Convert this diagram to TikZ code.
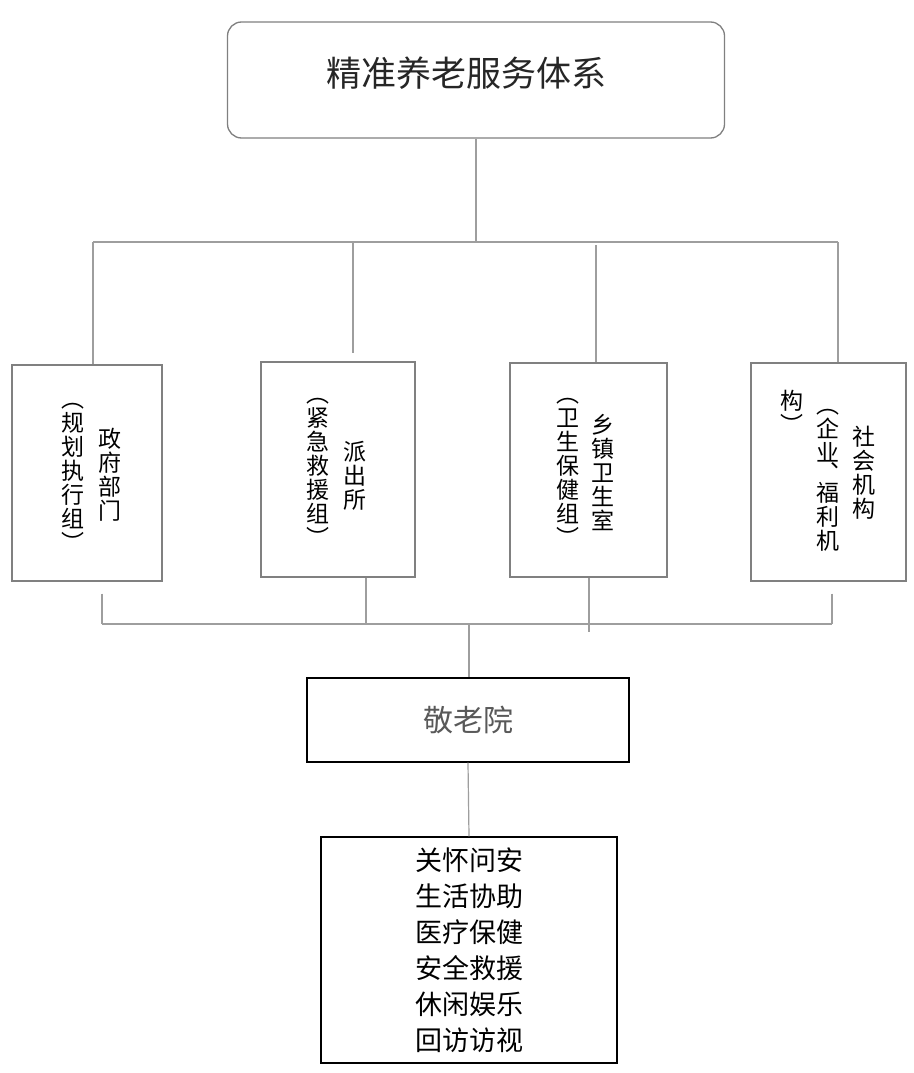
\documentclass[tikz,border=0pt]{standalone}
\usepackage{fontspec}
\setmainfont{Noto Sans CJK SC}
\definecolor{linegray}{gray}{0.62}
\definecolor{boxgray}{gray}{0.5}
\definecolor{titlecol}{gray}{0.15}
\definecolor{jingcol}{gray}{0.35}
\begin{document}
\begin{tikzpicture}[x=1pt,y=-1pt,
  conn/.style={draw=linegray, line width=1.2pt},
  gbox/.style={draw=boxgray, line width=1.3pt, rectangle, inner sep=0pt},
  kbox/.style={draw=black, line width=1.4pt, rectangle, inner sep=0pt},
  vcol/.style={align=center, inner sep=0pt, font=\fontsize{23}{24}\selectfont},
]
\useasboundingbox[fill=white] (0,0) rectangle (913,1073);

% top box
\node[gbox, rounded corners=14pt, minimum width=497pt, minimum height=116pt] (top) at (476,80) {};
\node[font=\fontsize{35}{40}\selectfont, text=titlecol, inner sep=0pt] (title) at (466,73) {精准养老服务体系};

% four vertical boxes
\node[gbox, minimum width=150pt, minimum height=216pt] (b1) at (87,473) {};
\node[gbox, minimum width=154pt, minimum height=215pt] (b2) at (338,469.5) {};
\node[gbox, minimum width=157pt, minimum height=214pt] (b3) at (588.5,470) {};
\node[gbox, minimum width=155pt, minimum height=218pt] (b4) at (828.5,472) {};

\node[vcol] (b1r) at (110,475) {政\\府\\部\\门};
\node[vcol] (b1l) at (73,477) {︵\\规\\划\\执\\行\\组\\︶};
\node[vcol] (b2r) at (355,476) {派\\出\\所};
\node[vcol] (b2l) at (318,472) {︵\\紧\\急\\救\\援\\组\\︶};
\node[vcol] (b3r) at (603,472) {乡\\镇\\卫\\生\\室};
\node[vcol] (b3l) at (568,472) {︵\\卫\\生\\保\\健\\组\\︶};
\node[vcol] (b4r) at (864,473) {社\\会\\机\\构};
\node[vcol] (b4m) at (828,480) {︵\\企\\业\\[-4pt]︑\\[-4pt]福\\利\\机};
\node[vcol] (b4l) at (792,412) {构\\︶};

% lower boxes
\node[kbox, minimum width=322pt, minimum height=84pt, font=\fontsize{30}{34}\selectfont, text=jingcol] (jing) at (468,720) {敬老院};
\node[kbox, minimum width=296pt, minimum height=226pt, align=center, font=\fontsize{27}{36}\selectfont] (list) at (469,950) {关怀问安\\生活协助\\医疗保健\\安全救援\\休闲娱乐\\回访访视};

% upper bus
\coordinate (d1) at (93,242);
\coordinate (d2) at (353,242);
\coordinate (d3) at (596,242);
\coordinate (d4) at (838,242);
\draw[conn] (top.south) -- (top.south |- d1);
\draw[conn] (d1) -- (d4);
\draw[conn] (d1) -- (d1 |- b1.north);
\draw[conn, shorten >=8pt] (d2) -- (d2 |- b2.north);
\draw[conn, shorten <=3pt] (d3) -- (d3 |- b3.north);
\draw[conn] (d4) -- (d4 |- b4.north);

% lower bus
\coordinate (u1) at (102,624);
\coordinate (u2) at (366,624);
\coordinate (u3) at (589,632);
\coordinate (u4) at (832,624);
\coordinate (uj) at (469,624);
\draw[conn] (u1) -- (u4);
\draw[conn, shorten <=12pt] (u1 |- b1.south) -- (u1);
\draw[conn] (u2 |- b2.south) -- (u2);
\draw[conn] (u3 |- b3.south) -- (u3);
\draw[conn, shorten <=12pt] (u4 |- b4.south) -- (u4);
\draw[conn] (uj) -- (uj |- jing.north);
\draw[conn] (jing.south) -- (list.north);
\end{tikzpicture}
\end{document}
